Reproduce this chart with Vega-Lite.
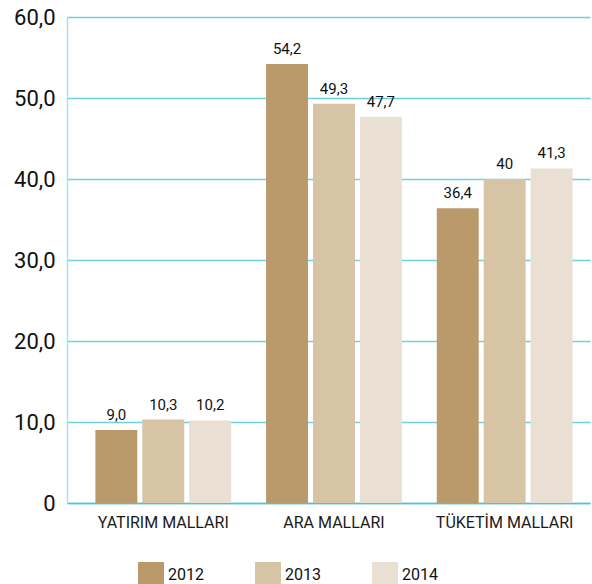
{
  "$schema": "https://vega.github.io/schema/vega-lite/v6.json",
  "width": 523,
  "height": 486,
  "autosize": "none",
  "padding": {"left": 67, "top": 17, "right": 2, "bottom": 81},
  "background": "white",
  "config": {
    "view": {"stroke": null},
    "font": "Roboto, sans-serif"
  },
  "data": {
    "values": [
      {"cat": "YATIRIM MALLARI", "year": "2012", "value": 9.0, "label": "9,0"},
      {"cat": "YATIRIM MALLARI", "year": "2013", "value": 10.3, "label": "10,3"},
      {"cat": "YATIRIM MALLARI", "year": "2014", "value": 10.2, "label": "10,2"},
      {"cat": "ARA MALLARI", "year": "2012", "value": 54.2, "label": "54,2"},
      {"cat": "ARA MALLARI", "year": "2013", "value": 49.3, "label": "49,3"},
      {"cat": "ARA MALLARI", "year": "2014", "value": 47.7, "label": "47,7"},
      {"cat": "TÜKETİM MALLARI", "year": "2012", "value": 36.4, "label": "36,4"},
      {"cat": "TÜKETİM MALLARI", "year": "2013", "value": 40, "label": "40"},
      {"cat": "TÜKETİM MALLARI", "year": "2014", "value": 41.3, "label": "41,3"}
    ]
  },
  "encoding": {
    "x": {
      "field": "cat",
      "type": "nominal",
      "sort": ["YATIRIM MALLARI", "ARA MALLARI", "TÜKETİM MALLARI"],
      "scale": {"paddingInner": 0, "paddingOuter": 0.032, "align": 1},
      "title": null,
      "axis": {
        "labelAngle": 0,
        "ticks": false,
        "domain": true,
        "domainColor": "#4cc3d6",
        "domainWidth": 1.5,
        "labelPadding": 11,
        "labelFontSize": 16,
        "labelColor": "#1a1a1a",
        "labelFont": "Roboto"
      }
    },
    "xOffset": {
      "field": "year",
      "type": "nominal",
      "scale": {"paddingInner": 0.106, "paddingOuter": 0.372}
    },
    "y": {
      "field": "value",
      "type": "quantitative",
      "scale": {"domain": [0, 60], "nice": false},
      "title": null,
      "axis": {
        "values": [0, 10, 20, 30, 40, 50, 60],
        "labelExpr": "datum.value == 0 ? '0' : replace(format(datum.value, '.1f'), '.', ',')",
        "ticks": false,
        "domain": true,
        "domainColor": "#a6e2ec",
        "domainWidth": 1.5,
        "grid": true,
        "gridColor": "#6fd0e0",
        "gridWidth": 1.3,
        "labelPadding": 12,
        "labelFontSize": 22,
        "labelColor": "#111111",
        "labelFont": "Roboto"
      }
    }
  },
  "layer": [
    {
      "mark": {"type": "bar"},
      "encoding": {
        "color": {
          "field": "year",
          "type": "nominal",
          "scale": {"domain": ["2012", "2013", "2014"], "range": ["#ba9a6a", "#d6c4a5", "#e9e0d3"]},
          "legend": {
            "title": null,
            "orient": "none",
            "direction": "horizontal",
            "legendX": 71,
            "legendY": 545,
            "padding": 0,
            "symbolType": "square",
            "symbolSize": 676,
            "symbolStrokeWidth": 0,
            "symbolOpacity": 1,
            "labelOffset": 4,
            "columnPadding": 51,
            "labelFontSize": 16,
            "labelColor": "#111111",
            "labelFont": "Roboto"
          }
        }
      }
    },
    {
      "mark": {
        "type": "text",
        "baseline": "bottom",
        "dy": -7,
        "fontSize": 15,
        "color": "#111111",
        "font": "Roboto"
      },
      "encoding": {
        "text": {"field": "label"}
      }
    }
  ]
}
